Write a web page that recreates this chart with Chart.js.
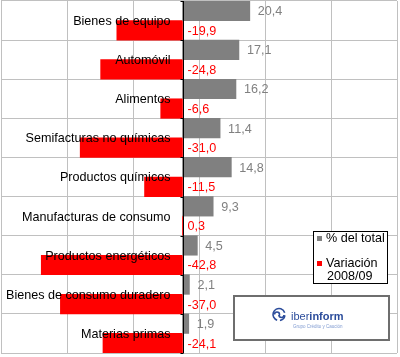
<!DOCTYPE html>
<html>
<head>
<meta charset="utf-8">
<script src="https://cdn.jsdelivr.net/npm/chart.js@4/dist/chart.umd.min.js"></script>
<style>
html,body{margin:0;padding:0;background:#fff;}
#wrap{width:400px;height:357px;}
</style>
</head>
<body>
<div id="wrap"><canvas id="c" width="400" height="357"></canvas></div>
<script>
const categories = ['Bienes de equipo','Automóvil','Alimentos','Semifacturas no químicas','Productos químicos','Manufacturas de consumo','Productos energéticos','Bienes de consumo duradero','Materias primas'];
const shareOfTotal = [20.4,17.1,16.2,11.4,14.8,9.3,4.5,2.1,1.9];
const variation = [-19.9,-24.8,-6.6,-31.0,-11.5,0.3,-42.8,-37.0,-24.1];
const seriesNames = ['% del total', ['Variación','2008/09']];
const axisMin = -55, axisMax = 65, axisStep = 20;

const FONT = "'Liberation Sans', Arial, sans-serif";
const FS = '12.6px ';
const GRAY = '#808080', RED = '#ff0000';
const fmt = v => v.toFixed(1).replace('.', ',');

const overlay = {
  id: 'overlay',
  afterDatasetsDraw(chart) {
    const ctx = chart.ctx, xs = chart.scales.x, ys = chart.scales.y, a = chart.chartArea;
    const x0 = Math.round(xs.getPixelForValue(0)) + 0.5;
    const h = ys.getPixelForValue(1) - ys.getPixelForValue(0);
    ctx.save();
    // zero axis line + ticks
    ctx.strokeStyle = '#000'; ctx.lineWidth = 1;
    ctx.beginPath(); ctx.moveTo(x0, a.top); ctx.lineTo(x0, a.bottom); ctx.stroke();
    for (let i = 0; i <= categories.length; i++) {
      const y = Math.round(ys.getPixelForValue(i) - h / 2) + 0.5;
      ctx.beginPath(); ctx.moveTo(x0 - 3, y); ctx.lineTo(x0, y); ctx.stroke();
    }
    // category labels
    ctx.font = FS + FONT; ctx.textBaseline = 'middle';
    ctx.textAlign = 'right'; ctx.fillStyle = '#000';
    categories.forEach((c, i) => ctx.fillText(c, x0 - 13, ys.getPixelForValue(i) + 1));
    // value labels
    ctx.textAlign = 'left';
    const m0 = chart.getDatasetMeta(0), m1 = chart.getDatasetMeta(1);
    ctx.fillStyle = GRAY;
    shareOfTotal.forEach((v, i) => { const b = m0.data[i]; ctx.fillText(fmt(v), b.x + 8, b.y + 1); });
    ctx.fillStyle = RED;
    variation.forEach((v, i) => { const b = m1.data[i]; ctx.fillText(fmt(v), x0 + 4, b.y + 1); });
    ctx.restore();
  },
  afterDraw(chart) {
    const ctx = chart.ctx;
    ctx.save();
    // legend box
    ctx.fillStyle = '#fff'; ctx.fillRect(313, 231, 75, 53);
    ctx.strokeStyle = '#000'; ctx.lineWidth = 1; ctx.strokeRect(313.5, 231.5, 74, 52);
    ctx.fillStyle = GRAY; ctx.fillRect(317, 236, 5, 5);
    ctx.fillStyle = RED; ctx.fillRect(317, 261, 5, 5);
    ctx.fillStyle = '#000'; ctx.font = FS + FONT; ctx.textBaseline = 'middle'; ctx.textAlign = 'left';
    ctx.fillText(seriesNames[0], 326, 239);
    ctx.fillText(seriesNames[1][0], 326, 264);
    ctx.fillText(seriesNames[1][1], 327, 277);
    // logo box
    ctx.fillStyle = '#fff'; ctx.fillRect(233, 295, 157, 46);
    ctx.strokeStyle = '#6e6e6e'; ctx.lineWidth = 2; ctx.strokeRect(234, 296, 155, 44);
    // icon
    ctx.strokeStyle = '#2b4c9b'; ctx.lineWidth = 1.6;
    ctx.beginPath(); ctx.arc(279, 314.5, 6, Math.PI * 0.6, Math.PI * 1.9); ctx.stroke();
    ctx.beginPath(); ctx.arc(279, 314.5, 6, Math.PI * 2.05, Math.PI * 2.45); ctx.stroke();
    ctx.beginPath(); ctx.arc(277, 314.5, 2.5, Math.PI * 1.0, Math.PI * 2.2); ctx.stroke();
    ctx.beginPath(); ctx.arc(281.5, 315, 2.5, 0, Math.PI); ctx.stroke();
    // text
    ctx.fillStyle = '#2b4c9b'; ctx.textBaseline = 'alphabetic';
    ctx.font = '11px ' + FONT; ctx.fillText('iber', 291, 320);
    const w = ctx.measureText('iber').width;
    ctx.font = 'bold 11px ' + FONT; ctx.fillText('inform', 291 + w, 320);
    ctx.fillStyle = '#7f9ad0'; ctx.font = '4.5px ' + FONT;
    ctx.fillText('Grupo Crédito y Caución', 293, 328);
    ctx.restore();
  }
};

new Chart(document.getElementById('c'), {
  type: 'bar',
  data: {
    labels: categories,
    datasets: [
      { label: seriesNames[0], data: shareOfTotal, backgroundColor: GRAY, categoryPercentage: 1, barPercentage: 1 },
      { label: seriesNames[1].join(' '), data: variation, backgroundColor: RED, categoryPercentage: 1, barPercentage: 1 }
    ]
  },
  options: {
    indexAxis: 'y',
    responsive: false,
    animation: false,
    devicePixelRatio: 1,
    layout: { padding: { left: 1, top: 1, right: 3, bottom: 4 } },
    plugins: { legend: { display: false }, tooltip: { enabled: false } },
    scales: {
      x: {
        min: axisMin, max: axisMax,
        ticks: { display: false, stepSize: axisStep },
        grid: { color: '#c0c0c0', drawTicks: false, lineWidth: 1 },
        border: { display: false }
      },
      y: {
        ticks: { display: false },
        grid: { color: '#c0c0c0', drawTicks: false, offset: true, lineWidth: 1 },
        border: { display: false }
      }
    }
  },
  plugins: [overlay]
});
</script>
</body>
</html>
